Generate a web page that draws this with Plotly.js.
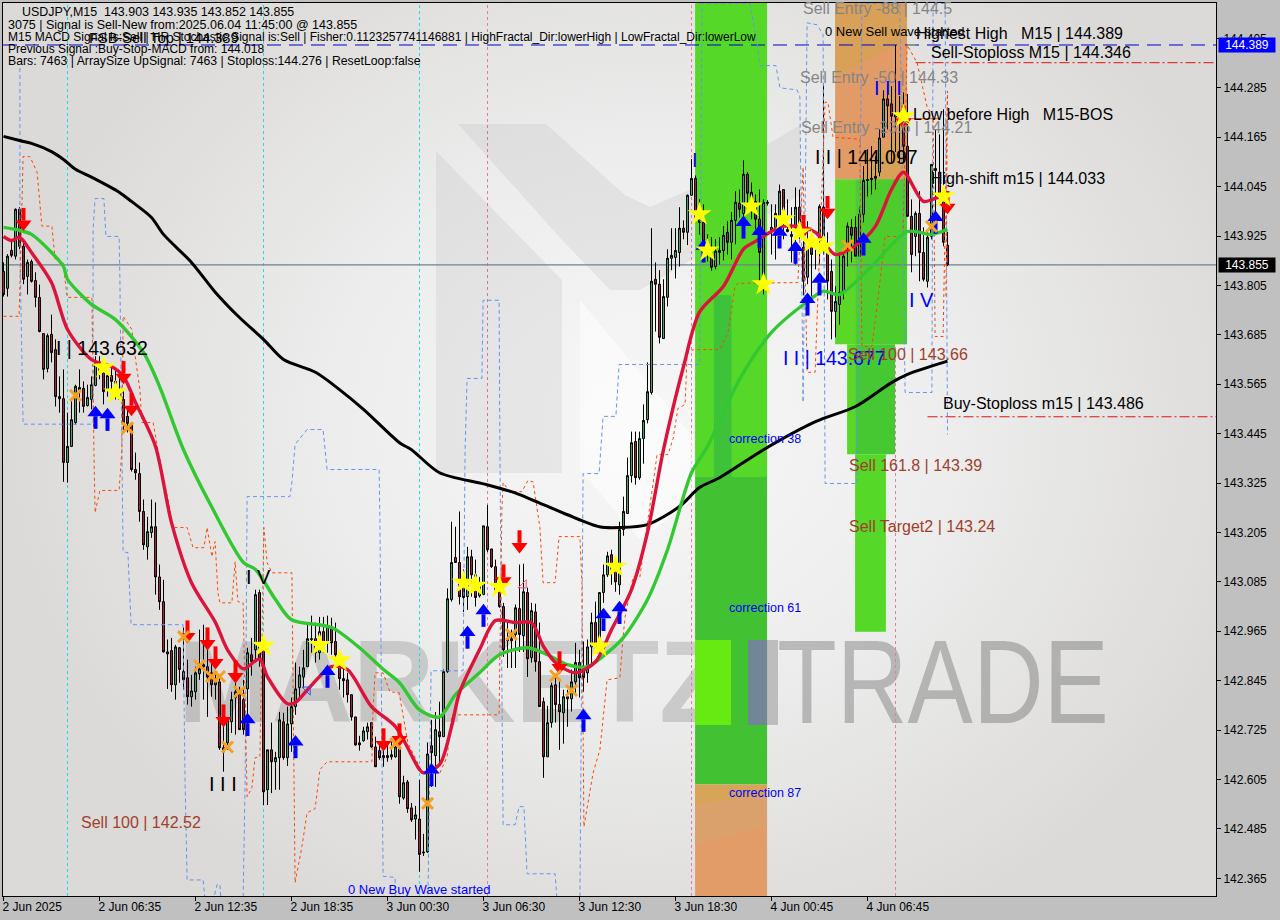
<!DOCTYPE html>
<html><head><meta charset="utf-8">
<script src="https://cdn.plot.ly/plotly-3.0.1.min.js"></script>
<style>
html,body{margin:0;padding:0;width:1280px;height:920px;overflow:hidden;background:#c0c0c0}
#bg{position:absolute;left:3px;top:3px;width:1213px;height:893px;overflow:hidden;background:radial-gradient(ellipse 640px 560px at 640px 420px,#f7f7f7 0%,#eeeeee 45%,#dbdad8 100%),#dbdad8}
#gd{position:absolute;left:0;top:0;width:1280px;height:920px}
.wm{position:absolute;top:637px;height:85px;line-height:85px;font-family:"Liberation Sans";white-space:nowrap;transform-origin:left center}
</style></head><body><div id="bg"><span class="wm" style="left:175px;font-size:116px;font-weight:bold;color:rgba(0,0,0,0.14);transform:scaleX(0.97)">MARKETZ</span><span class="wm" style="left:774px;font-size:118px;color:rgba(0,0,0,0.22);transform:scaleX(0.83)">TRADE</span></div><div id="gd"></div>
<script>
const opens=[143.839,143.798,143.890,143.876,143.990,143.900,143.827,143.863,143.817,143.776,143.688,143.603,143.686,143.649,143.535,143.530,143.375,143.414,143.472,143.557,143.555,143.513,143.528,143.562,143.608,143.594,143.552,143.586,143.572,143.552,143.528,143.487,143.470,143.358,143.348,143.256,143.170,143.205,143.219,143.097,143.037,142.915,142.918,142.835,142.925,142.867,142.852,142.806,142.818,142.862,142.879,142.879,142.864,142.835,142.842,142.682,142.694,142.745,142.804,142.818,142.799,142.825,142.908,142.920,143.059,142.920,142.580,142.677,142.648,142.658,142.745,142.658,142.740,142.782,142.828,142.854,142.879,142.945,142.947,142.913,142.964,142.937,142.976,142.940,142.908,142.850,142.847,142.811,142.757,142.694,142.699,142.721,142.743,142.684,142.675,142.663,142.663,142.660,142.660,142.684,142.560,142.599,142.536,142.509,142.509,142.429,142.429,142.687,142.663,142.721,142.709,142.867,143.042,143.144,143.132,143.090,143.049,143.146,143.102,143.051,143.054,143.219,143.165,143.122,143.090,143.025,142.947,142.942,142.957,143.020,142.954,143.059,142.901,143.012,142.891,142.794,142.660,142.743,142.835,142.787,142.767,142.801,142.801,142.842,142.889,142.877,142.864,142.927,142.986,142.945,143.059,143.102,143.151,143.122,143.078,143.212,143.251,143.343,143.426,143.338,143.433,143.479,143.545,143.820,143.808,143.676,143.776,143.871,143.873,143.885,143.944,143.934,144.024,144.065,143.978,143.958,143.905,143.876,143.851,143.885,143.890,143.934,143.910,143.963,144.005,143.980,144.075,144.031,144.009,143.966,143.820,144.007,143.946,143.946,143.966,144.038,143.941,143.929,143.946,143.995,143.898,143.825,143.905,143.905,143.917,143.995,143.888,143.839,143.742,143.759,143.788,143.900,143.946,143.946,143.876,143.978,144.060,144.062,144.065,144.080,144.165,144.258,144.246,144.214,144.221,144.214,144.143,143.973,143.924,143.980,143.885,143.815,143.924,144.089,144.080,144.021,143.903];
const highs=[143.861,143.881,143.917,143.992,143.995,143.912,143.868,143.868,143.837,143.807,143.688,143.688,143.734,143.674,143.584,143.601,143.496,143.528,143.564,143.601,143.572,143.564,143.584,143.633,143.633,143.625,143.606,143.613,143.601,143.596,143.552,143.504,143.472,143.399,143.375,143.285,143.243,143.285,143.278,143.127,143.090,142.945,142.949,142.932,142.927,142.974,142.896,142.859,142.879,142.969,142.981,142.932,142.889,142.864,142.859,142.750,142.757,142.818,142.842,142.830,142.847,142.925,142.949,143.066,143.066,142.937,142.677,142.743,142.672,142.769,142.767,142.782,142.804,142.889,142.879,142.920,142.986,143.003,142.986,143.000,143.000,143.003,142.998,142.986,142.908,142.889,142.864,142.811,142.757,142.711,142.733,142.743,142.743,142.709,142.694,142.677,142.689,142.702,142.709,142.684,142.614,142.604,142.548,142.541,142.604,142.473,142.695,142.750,142.769,142.794,142.872,143.069,143.231,143.219,143.256,143.115,143.170,143.163,143.139,143.097,143.221,143.272,143.165,143.139,143.097,143.034,142.988,142.969,143.030,143.127,143.129,143.071,143.034,143.032,142.986,142.804,142.784,142.840,142.854,142.847,142.823,142.823,142.872,142.937,142.920,142.940,142.945,143.010,143.037,143.059,143.127,143.158,143.163,143.139,143.231,143.292,143.387,143.450,143.450,143.450,143.516,143.618,143.944,143.861,143.842,143.820,143.893,143.944,143.944,143.995,143.963,144.026,144.112,144.072,144.014,144.002,143.929,143.922,143.917,143.922,143.949,143.961,143.983,144.034,144.038,144.109,144.080,144.055,144.026,144.038,144.014,144.012,144.002,144.002,144.050,144.038,144.014,143.995,144.043,144.038,143.953,143.961,143.924,143.917,144.002,144.293,143.934,143.868,143.803,143.885,143.893,143.958,143.966,143.973,143.997,144.095,144.136,144.143,144.119,144.184,144.279,144.289,144.289,144.389,144.265,144.274,144.270,144.014,143.985,144.034,143.946,143.941,144.099,144.184,144.172,144.233,143.935];
const lows=[143.778,143.778,143.873,143.868,143.893,143.808,143.783,143.812,143.752,143.691,143.577,143.594,143.618,143.511,143.496,143.328,143.326,143.414,143.467,143.496,143.496,143.511,143.504,143.560,143.577,143.516,143.535,143.528,143.528,143.528,143.448,143.448,143.353,143.333,143.231,143.163,143.139,143.192,143.054,143.017,142.913,142.825,142.818,142.799,142.840,142.823,142.787,142.782,142.799,142.847,142.799,142.757,142.806,142.799,142.677,142.624,142.677,142.718,142.714,142.726,142.714,142.726,142.857,142.889,142.879,142.543,142.543,142.572,142.580,142.580,142.653,142.638,142.672,142.762,142.804,142.828,142.879,142.913,142.889,142.896,142.913,142.913,142.908,142.903,142.823,142.804,142.792,142.748,142.687,142.675,142.697,142.702,142.682,142.636,142.653,142.636,142.648,142.653,142.658,142.546,142.556,142.524,142.502,142.459,142.381,142.419,142.427,142.587,142.587,142.641,142.709,142.864,143.037,143.132,143.030,143.012,143.017,143.049,143.025,143.047,143.054,143.158,143.119,143.059,143.022,142.903,142.876,142.876,142.876,142.915,142.915,142.854,142.889,142.867,142.782,142.609,142.660,142.731,142.743,142.677,142.692,142.733,142.770,142.816,142.804,142.818,142.840,142.879,142.920,142.940,143.034,143.097,143.078,143.061,143.054,143.197,143.251,143.326,143.321,143.333,143.372,143.470,143.540,143.693,143.664,143.676,143.754,143.842,143.822,143.851,143.917,143.903,144.024,143.961,143.929,143.893,143.863,143.841,143.844,143.856,143.866,143.880,143.868,143.905,143.970,143.961,143.980,143.966,143.941,143.815,143.783,143.999,143.880,143.868,143.929,143.917,143.934,143.861,143.856,143.917,143.781,143.808,143.778,143.844,143.856,143.880,143.771,143.674,143.679,143.710,143.771,143.851,143.861,143.876,143.876,143.958,144.021,144.026,144.038,144.070,144.165,144.184,144.104,144.129,144.104,144.104,143.971,143.837,143.876,143.815,143.815,143.800,143.917,143.966,144.014,143.900,143.852];
const closes=[143.783,143.876,143.878,143.990,143.900,143.820,143.861,143.815,143.776,143.693,143.601,143.683,143.642,143.535,143.530,143.375,143.414,143.479,143.560,143.552,143.511,143.533,143.564,143.618,143.594,143.547,143.586,143.572,143.550,143.528,143.472,143.470,143.358,143.350,143.256,143.175,143.207,143.219,143.097,143.037,142.915,142.910,142.835,142.927,142.872,142.847,142.806,142.820,142.864,142.874,142.884,142.854,142.835,142.842,142.682,142.672,142.750,142.799,142.818,142.726,142.726,142.913,142.891,143.054,142.896,142.575,142.677,142.648,142.658,142.750,142.658,142.740,142.782,142.825,142.859,142.876,142.947,142.947,142.913,142.964,142.937,142.979,142.937,142.908,142.850,142.845,142.811,142.757,142.689,142.689,142.723,142.733,142.684,142.636,142.658,142.658,142.658,142.665,142.684,142.563,142.597,142.534,142.507,142.519,142.423,142.427,142.667,142.670,142.726,142.709,142.867,143.044,143.132,143.132,143.049,143.047,143.146,143.102,143.047,143.083,143.221,143.163,143.122,143.061,143.025,142.920,142.942,142.947,143.022,142.957,143.061,142.898,143.015,142.891,142.782,142.660,142.743,142.833,142.787,142.769,142.806,142.806,142.842,142.889,142.852,142.852,142.927,142.986,142.927,143.059,143.102,143.148,143.110,143.085,143.212,143.256,143.343,143.423,143.338,143.433,143.477,143.547,143.815,143.808,143.679,143.778,143.871,143.878,143.890,143.944,143.934,144.024,144.065,143.966,143.958,143.905,143.895,143.849,143.888,143.890,143.927,143.910,143.963,144.007,143.990,144.075,144.029,144.007,143.966,143.885,144.007,144.005,143.938,143.980,144.034,143.978,143.936,143.924,143.995,143.946,143.815,143.900,143.880,143.898,143.997,143.924,143.815,143.742,143.766,143.788,143.876,143.949,143.927,143.876,143.978,144.060,144.062,144.065,144.070,144.163,144.258,144.241,144.216,144.221,144.214,144.143,143.973,143.880,143.980,143.885,143.820,143.922,144.099,144.084,144.021,143.910,143.855];

const blackX=[0,4,7,12,15,18,22,29,32,37,40,47,53,59,65,70,78,84,90,99,102,109,120,127,132,141,149,154,161,169,174,179,190,203,213,222,226,236];
const blackY=[144.167,144.157,144.150,144.130,144.111,144.087,144.068,144.031,144.009,143.970,143.929,143.861,143.788,143.727,143.674,143.625,143.594,143.552,143.504,143.423,143.406,143.350,143.323,143.304,143.285,143.248,143.219,143.217,143.224,143.268,143.314,143.338,143.406,143.474,143.511,143.569,143.589,143.621];
const greenX=[0,4,7,12,15,16,22,28,35,39,45,52,60,63,68,72,82,89,95,99,104,109,113,119,124,131,136,141,146,151,155,161,166,172,176,184,192,201,205,209,217,226,232,236];
const greenY=[143.946,143.939,143.929,143.885,143.851,143.820,143.759,143.722,143.642,143.560,143.406,143.268,143.132,143.115,143.042,142.993,142.974,142.925,142.872,142.840,142.774,142.757,142.811,142.864,142.908,142.925,142.908,142.884,142.879,142.913,142.950,143.042,143.163,143.350,143.414,143.577,143.691,143.766,143.791,143.783,143.851,143.936,143.929,143.941];
const redX=[0,2,4,7,12,16,22,27,30,33,38,42,47,53,56,60,64,66,71,73,76,82,86,92,98,104,105,109,112,114,119,123,128,132,135,138,143,148,152,157,161,165,170,174,180,185,188,194,198,203,208,214,218,222,225,230,234,236];
const redY=[143.924,143.914,143.922,143.885,143.812,143.698,143.625,143.608,143.584,143.521,143.414,143.229,143.083,142.986,142.920,142.874,142.898,142.854,142.789,142.792,142.823,142.879,142.872,142.782,142.733,142.629,142.621,142.641,142.733,142.816,142.920,142.991,142.986,142.986,142.928,142.889,142.864,142.891,142.969,143.066,143.205,143.406,143.608,143.740,143.803,143.893,143.912,143.946,143.949,143.934,143.880,143.909,143.949,144.038,144.080,144.009,144.019,144.007];

const orangeX=[0,3.9,4.1,4.9,6.6,8.4,9.6,12.1,12.9,14.9,15.9,22.1,22.6,22.9,24.1,28.9,29.6,29.9,32.1,32.9,34.1,34.6,37.4,38.6,41.6,42.4,45.9,47.4,50.1,50.9,52.1,52.9,53.6,54.1,57.1,57.9,58.6,59.9,60.4,60.9,62.1,62.9,64.1,64.6,65.1,65.9,67.1,72.1,72.4,72.9,74.6,75.9,77.9,79.1,80.9,92.1,92.4,92.9,94.9,96.6,98.9,99.9,101.1,104.6,109.1,110.9,112.1,123.9,124.6,124.9,126.6,129.6,131.1,132.4,134.1,134.9,137.9,138.9,144.1,144.6,144.9,145.1,147.4,149.1,150.9,154.1,154.9,155.4,157.4,159.1,160.4,163.4,166.1,167.4,168.6,170.4,170.9,172.4,179.1,181.1,182.9,183.6,198.6,199.9,200.9,202.9,205.4,206.1,207.4,214.1,214.6,217.1,218.6,220.4,224.9,225.9,228.4,230.9,232.4,232.9,234.9,236,235.6];
const orangeY=[143.730,143.730,143.803,144.118,144.118,144.080,143.949,143.949,143.868,143.861,143.776,143.776,143.406,143.253,143.307,143.307,143.406,143.730,143.698,143.633,143.552,143.472,143.472,143.406,143.261,143.217,143.217,143.168,143.168,143.217,143.146,143.183,143.059,143.034,143.034,143.134,143.037,143.034,142.799,142.563,142.585,142.658,142.660,143.000,143.217,143.132,143.107,143.107,142.840,142.354,142.442,142.524,142.534,142.629,142.648,142.648,142.779,142.864,142.864,142.818,142.816,142.757,142.694,142.624,142.621,142.660,142.762,142.762,143.261,143.326,143.304,143.304,143.331,143.328,143.217,143.083,143.083,143.195,143.195,143.083,142.677,142.490,142.621,142.677,142.847,142.852,142.952,143.000,143.097,143.097,143.188,143.394,143.394,143.433,143.506,143.516,143.638,143.649,143.649,143.691,143.803,143.810,143.812,144.092,143.594,143.594,144.250,144.250,144.165,144.160,143.657,143.657,143.771,143.924,143.924,144.389,144.346,144.239,144.216,143.681,143.681,144.277,143.776];
const blueX=[4.1,4.1,4.9,22.4,22.4,22.9,25.1,25.6,28.9,29.1,29.6,29.9,31.1,31.9,44.9,45.4,45.9,49.9,50.4,52.4,53.4,54.1,54.4,59.9,60.4,60.9,71.6,72.1,72.9,75.9,79.9,80.9,93.9,94.1,94.9,97.9,97.9,106.1,106.9,114.9,115.4,115.9,119.6,119.9,123.9,124.1,124.9,127.9,128.9,130.1,130.9,137.9,138.4,144.1,144.9,148.9,149.9,153.1,153.9,174.1,174.6,186.6,188.4,189.1,193.1,194.1,198.4,199.1,199.9,200.9,203.4,204.9,205.4,213.4,214.6,224.1,225.4,232.1,232.4,235.4,236];
const blueY=[144.333,143.893,143.468,143.468,143.941,144.016,144.016,143.924,143.924,143.820,143.406,143.158,143.156,142.981,142.981,142.597,142.361,142.361,142.310,142.310,142.350,142.350,142.310,142.310,142.597,143.292,143.292,143.326,143.419,143.455,143.455,143.358,143.358,143.236,142.370,142.367,142.310,142.310,142.869,142.869,143.406,143.579,143.579,143.769,143.769,143.406,142.495,142.495,142.539,142.539,142.376,142.376,142.310,142.310,143.348,143.348,143.487,143.487,143.613,143.613,144.490,144.490,144.394,144.339,144.339,144.285,144.280,144.263,143.521,144.443,144.438,144.414,143.324,143.324,144.490,144.490,143.545,143.545,144.490,144.490,143.443];

const starX=[25,28,65,79,84,115,118,124,149,153,174,176,187,190,195,199,202,205,225,235];
const starY=[143.606,143.545,142.930,142.932,142.894,143.083,143.076,143.073,142.928,143.122,143.978,143.890,143.997,143.808,143.966,143.934,143.910,143.900,144.216,144.021];
const crossX=[18,31,45,49,52,54,56,59,98,106,127,138,142,211,232];
const crossY=[143.538,143.459,142.952,142.882,142.855,142.855,142.684,142.818,142.692,142.547,142.957,142.857,142.821,143.902,143.948];
const downX=[5,30,32,46,51,53,58,55,95,99,129,125,139,206,200,225,236];
const downY=[143.966,143.594,143.516,142.964,142.947,142.901,142.867,142.760,142.702,142.714,143.183,143.100,142.889,143.995,143.949,144.214,144.007];
const upX=[23,26,61,73,81,107,116,120,145,150,154,185,189,194,198,201,204,215,233,175];
const upY=[143.484,143.479,142.738,142.684,142.855,142.616,142.950,143.003,142.748,142.993,143.010,143.946,143.924,143.922,143.885,143.759,143.808,143.905,143.958,143.888];
const hollowUpX=[76];
const hollowUpY=[142.823];
const hollowDownX=[130];
const hollowDownY=[143.077];

const xTickVals=[0,24,48,72,96,120,144,168,192,216];
const xTickText=["2 Jun 2025","2 Jun 06:35","2 Jun 12:35","2 Jun 18:35","3 Jun 00:30","3 Jun 06:30","3 Jun 12:30","3 Jun 18:30","4 Jun 00:45","4 Jun 06:45"];
const cyanBars=[16,65,104];
const pinkBars=[121,172,223];

const F="Liberation Sans";
const W=1280,H=920,L=3,T=3,PW=1213,PH=893;
const px=x=>(x-L)/PW, py=y=>1-(y-T)/PH;
const bars=opens.map((_,i)=>i);
const TOP=144.491,BOT=142.322;
const toBar=x=>(x-3.5)/4, toPrice=y=>TOP-(y-T)*(TOP-BOT)/PH;

function label(t,x,y,size,color,extra){return Object.assign({text:t,x:px(x),y:py(y),xref:'paper',yref:'paper',xanchor:'left',yanchor:'middle',showarrow:false,font:{family:F,size:size,color:color},borderpad:0},extra||{});}
const NB='\u00a0';
const GR='#858585',BR='#a0402c',BK='#000',BL='#0000ff';
const annotations=[
 label('USDJPY,M15'+NB+NB+'143.903 143.935 143.852 143.855',21,12,12.45,BK),
 label('3075 | Signal is Sell-New from:2025.06.04 11:45:00 @ 143.855',7,25,12.5,BK),
 label('M15 MACD Signal is:Sell | HR Stochastic Signal is:Sell | Fisher:0.1123257741146881 | HighFractal_Dir:lowerHigh | LowFractal_Dir:lowerLow',7,37,12,BK),
 label('FSB-Sell Top | 144.389',88,38,14.6,BK),
 label('Previous Signal :Buy-Stop-MACD from: 144.018',7,49,12,BK),
 label('Bars: 7463 | ArraySize UpSignal: 7463 | Stoploss:144.276 | ResetLoop:false',7,61,12.27,BK),
 label('Sell Entry -88 | 144.5',802,8,16,GR),
 label('Sell Entry -50 | 144.33',799,78,16,GR),
 label('Sell Entry -23.6 | 144.21',800,128,16,GR),
 label('0 New Sell wave started',824,32,13,BK),
 label('Highest High'+NB+NB+NB+'M15 | 144.389',915,33,16,BK),
 label('Sell-Stoploss M15 | 144.346',930,52,16,BK),
 label('Low before High'+NB+NB+NB+'M15-BOS',912,115,16,BK),
 label('High-shift m15 | 144.033',930,179,16,BK),
 label('I I | 144.097',814,157,19.5,BK),
 label('I I | 143.677',782,358,19.5,BL),
 label('I | 143.632',55,348,19.5,BK),
 label('I V',245,577,20,BK),
 label('I'+NB+'I'+NB+'I',208,784,20,BK),
 label('I'+NB+'I'+NB+'I',873,88,20,BL),
 label('I V',908,300,20,BL),
 label('I',691,160,20,BL),
 label('Sell 100 | 143.66',847,354,16,BR),
 label('Sell 161.8 | 143.39',848,465,16,BR),
 label('Sell Target2 | 143.24',848,526,16,BR),
 label('Sell 100 | 142.52',80,822,16,BR),
 label('Buy-Stoploss m15 | 143.486',942,404,16,BK),
 label('correction 38',728,439,12.5,BL),
 label('correction 61',728,608,12.5,BL),
 label('correction 87',728,793,12.5,BL),
 label('0 New Buy Wave started',347,889,13,BL),
 {text:'144.389',x:px(1218),y:py(45),xref:'paper',yref:'paper',xanchor:'left',yanchor:'middle',showarrow:false,bgcolor:'#0000ff',width:56,height:14,align:'center',font:{family:F,size:12,color:'#fff'},borderpad:0},
 {text:'143.855',x:px(1218),y:py(265),xref:'paper',yref:'paper',xanchor:'left',yanchor:'middle',showarrow:false,bgcolor:'#000',width:56,height:14,align:'center',font:{family:F,size:12,color:'#fff'},borderpad:0}
];

function rectPx(x0,y0,x1,y1,fill){return {type:'rect',xref:'x',yref:'y',x0:toBar(x0),x1:toBar(x1),y0:toPrice(y0),y1:toPrice(y1),fillcolor:fill,line:{width:0},layer:'below'};}
function polyPx(pts,fill){return {type:'path',xref:'x',yref:'y',path:'M'+pts.map(p=>toBar(p[0]).toFixed(3)+','+toPrice(p[1]).toFixed(4)).join('L')+'Z',fillcolor:fill,line:{width:0},layer:'below'};}
function zone(i0,i1,p0,p1,c){return {type:'rect',xref:'x',yref:'y',x0:i0,x1:i1,y0:p0,y1:p1,fillcolor:c,line:{width:0},layer:'below'};}
function hline(p,i0,i1,c,d,w){return {type:'line',xref:'x',yref:'y',x0:i0,x1:i1,y0:p,y1:p,line:{color:c,width:w||1,dash:d},layer:'below'};}
function vline(i,c){return {type:'line',xref:'x',yref:'paper',x0:i,x1:i,y0:0,y1:1,line:{color:c,width:1,dash:'3px,3px'},layer:'below'};}

const shapes=[
 polyPx([[436,151],[562,280],[562,473],[436,473]],'rgba(0,0,0,0.05)'),
 polyPx([[458,124],[546,124],[625,195],[650,207],[700,185],[800,125],[800,195],[700,255],[640,290],[610,290],[562,240]],'rgba(0,0,0,0.05)'),
 polyPx([[580,300],[720,470],[720,480],[640,540],[580,470]],'rgba(255,255,255,0.5)'),
 rectPx(767,640,778,725,'#bdbdbd'),
 // first wave zone
 zone(172.9,190.9,143.34,144.50,'#56d828'),
 zone(172.9,190.9,142.593,143.34,'#42c232'),
 zone(177.6,182,143.34,143.781,'#3ec23a'),
 rectPx(695,640,731,725,'#66ea12'),
 rectPx(748,640,767,725,'#728698'),
 zone(172.9,190.9,142.30,142.593,'#e29c68'),
 polyPx([[695,785],[767,785],[767,795],[695,805]],'#d8a458'),
 polyPx([[695,805],[767,795],[767,825],[695,845]],'#dba16c'),
 // second wave zone
 zone(207.9,225.9,144.063,144.50,'#e29a66'),
 polyPx([[835,3],[907,3],[907,40],[835,77]],'#d9a058'),
 polyPx([[860,180],[907,117],[907,180]],'#d9a058'),
 zone(207.9,212.9,143.662,144.063,'#5ad727'),
 zone(212.9,225.9,143.662,144.063,'#4ccd2d'),
 zone(210.9,212.9,143.395,143.662,'#5ad727'),
 zone(212.9,222.9,143.395,143.662,'#45c832'),
 zone(212.9,220.6,142.964,143.395,'#55d828'),
 ...cyanBars.map(i=>vline(i,'#18dfe8')),
 ...pinkBars.map(i=>vline(i,'#e878a8')),
 hline(144.389,-0.125,303.125,'#0000cd','14px,8px',1),
 hline(144.346,228,303.125,'#e01010','10px,3px,2px,3px',1),
 hline(143.855,-0.125,303.125,'#708090','solid',1.2),
 hline(143.486,231,303.125,'#e01010','10px,3px,2px,3px',1),
 hline(144.21,224,233.5,'#ff4500','solid',1),
 hline(144.389,226,228,'#7fd040','solid',1)
];

const head=(xs,ys,dir,c)=>({type:'scatter',mode:'markers',x:xs,y:ys.map(v=>v+dir*0.012),hoverinfo:'skip',marker:{symbol:dir>0?'triangle-up':'triangle-down',size:14,color:c,line:{width:0}}});
const shaft=(xs,ys,dir,c)=>({type:'scatter',mode:'markers',x:xs,y:ys.map(v=>v-dir*0.012),hoverinfo:'skip',marker:{symbol:'line-ns',size:9,color:c,line:{width:4,color:c}}});
const lineTrace=(x,y,c,w,d,smooth)=>({type:'scatter',mode:'lines',x,y,hoverinfo:'skip',line:Object.assign({color:c,width:w,dash:d||'solid'},smooth?{shape:'spline',smoothing:0.8}:{})});

const data=[
 lineTrace(blueX,blueY,'#6495ed',1,'4px,3px'),
 lineTrace(orangeX,orangeY,'#ff4500',1,'3px,3px'),
 {type:'candlestick',x:bars,open:opens,high:highs,low:lows,close:closes,hoverinfo:'skip',whiskerwidth:0,
  increasing:{line:{color:'#000',width:1},fillcolor:'#2eb872'},
  decreasing:{line:{color:'#000',width:1},fillcolor:'#b5203f'}},
 lineTrace(blackX,blackY,'#000',3,null,true),
 lineTrace(greenX,greenY,'#32c832',3.4,null,true),
 lineTrace(redX,redY,'#dc143c',3.4,null,true),
 shaft(upX,upY,1,'#0000ff'),head(upX,upY,1,'#0000ff'),
 shaft(downX,downY,-1,'#ff0000'),head(downX,downY,-1,'#ff0000'),
 {type:'scatter',mode:'markers',x:hollowUpX,y:hollowUpY,hoverinfo:'skip',marker:{symbol:'triangle-ne-open',size:9,color:'#3050ff',line:{width:1,color:'#3050ff'}}},
 {type:'scatter',mode:'markers',x:hollowDownX,y:hollowDownY,hoverinfo:'skip',marker:{symbol:'triangle-se-open',size:9,color:'#ff5070',line:{width:1,color:'#ff5070'}}},
 {type:'scatter',mode:'markers',x:crossX,y:crossY,hoverinfo:'skip',marker:{symbol:'x-thin',size:11,color:'#f5a01e',line:{width:3,color:'#f5a01e'}}},
 {type:'scatter',mode:'markers',x:starX,y:starY,hoverinfo:'skip',marker:{symbol:'star',size:18,color:'#ffff00',line:{width:0}}}
];

const layout={width:W,height:H,margin:{l:L,r:W-L-PW,t:T,b:H-T-PH,pad:0},paper_bgcolor:'rgba(0,0,0,0)',plot_bgcolor:'rgba(0,0,0,0)',showlegend:false,autosize:false,
 xaxis:{type:'linear',range:[-0.125,303.125],rangeslider:{visible:false},showgrid:false,zeroline:false,tickmode:'array',tickvals:xTickVals,ticktext:xTickText,ticks:'outside',ticklen:4,tickcolor:'#000',ticklabelposition:'outside right',ticklabelshift:-2,showline:true,mirror:true,linecolor:'#000',linewidth:1,tickfont:{family:F,size:12,color:'#000'},fixedrange:true},
 yaxis:{side:'right',range:[BOT,TOP],showgrid:false,zeroline:false,tick0:142.365,dtick:0.12,tickformat:'.3f',ticks:'outside',ticklen:4,tickcolor:'#000',showline:true,mirror:true,linecolor:'#000',linewidth:1,tickfont:{family:F,size:12,color:'#000'},fixedrange:true},
 annotations,shapes};
Plotly.newPlot('gd',data,layout,{staticPlot:true,displayModeBar:false});
</script></body></html>
